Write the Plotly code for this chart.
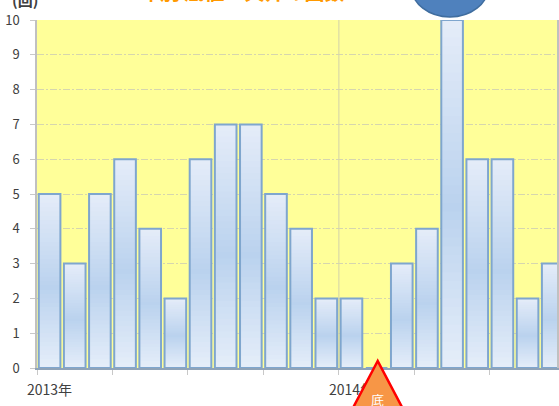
import plotly.graph_objects as go

counts_2013 = [5, 3, 5, 6, 4, 2, 6, 7, 7, 5, 4, 2]
counts_2014 = [2, 0, 3, 4, 10, 6, 6, 2, 3]
values = counts_2013 + counts_2014
positions = list(range(len(values)))
x_label_positions = [0, 12]
x_labels = ["2013年", "2014年"]
y_ticks = list(range(0, 11))
unit_label = "(回)"
chart_title = "年別 底値・天井の回数"
bottom_label = "底"

FONT = "Noto Sans CJK JP, Liberation Sans, sans-serif"
W, H = 559, 406
L, T, B = 37, 20, 38
PH = H - T - B


def py(pixel):
    return (H - B - pixel) / PH


def px(pixel):
    return (pixel - L) / (W - L)


def blend(frac):
    top = (230, 237, 249)
    mid = (186, 210, 238)
    bottom = (228, 237, 249)
    stop = 0.45
    if frac < stop:
        t = frac / stop
        a, b = bottom, mid
    else:
        t = (frac - stop) / (1 - stop)
        a, b = mid, top
    return "rgb(%d,%d,%d)" % tuple(round(a[i] + (b[i] - a[i]) * t) for i in range(3))


fig = go.Figure()
N = 40
for i in range(N):
    f = i / N
    fig.add_bar(
        x=positions,
        y=[v * (1 - f) for v in values],
        base=[v * f for v in values],
        marker=dict(color=blend(f), line=dict(width=0)),
        hoverinfo="skip",
        showlegend=False,
    )
fig.add_bar(
    x=positions,
    y=values,
    marker=dict(color="rgba(0,0,0,0)", line=dict(color="#7FA6CE", width=2)),
    showlegend=False,
)

shapes = [
    dict(type="line", xref="x", yref="paper", x0=11.5, x1=11.5, y0=0, y1=1,
         line=dict(color="#D2D2AA", width=1), layer="below"),
    dict(type="circle", xref="paper", yref="paper", x0=px(413), x1=px(490),
         y0=py(17), y1=py(-43), fillcolor="#4F81BD", line=dict(color="#3F6D9F", width=1.5)),
    dict(type="path", xref="paper", yref="paper",
         path="M %f %f L %f %f L %f %f Z" % (px(379), py(361), px(352), py(412), px(406), py(412)),
         fillcolor="#F79646", line=dict(color="#FF0000", width=2.5)),
]

annotations = [
    dict(text="<b>%s</b>" % unit_label, xref="paper", yref="paper", x=px(25), y=py(-13),
         xanchor="center", yanchor="top", showarrow=False,
         font=dict(family=FONT, size=15, color="#404040")),
    dict(text="<b>%s</b>" % chart_title, xref="paper", yref="paper", x=px(243), y=py(-25),
         xanchor="center", yanchor="top", showarrow=False,
         font=dict(family=FONT, size=20, color="#FF9900")),
    dict(text=bottom_label, xref="paper", yref="paper", x=px(379), y=py(399),
         xanchor="center", yanchor="middle", showarrow=False,
         font=dict(family=FONT, size=13, color="#FFFFFF")),
]

fig.update_layout(
    width=W,
    height=H,
    barmode="overlay",
    bargap=0.14,
    margin=dict(l=L, r=0, t=T, b=B),
    paper_bgcolor="white",
    plot_bgcolor="#FFFF99",
    font=dict(family=FONT, size=12, color="#404040"),
    hovermode=False,
    shapes=shapes,
    annotations=annotations,
    xaxis=dict(
        range=[-0.5, 20.17],
        tickmode="array",
        tickvals=x_label_positions,
        ticktext=x_labels,
        ticks="",
        showgrid=False,
        zeroline=False,
        showline=True,
        linecolor="#8FA3B8",
        linewidth=1.5,
        ticklabelstandoff=8,
        tickfont=dict(size=14, color="#404040"),
        minor=dict(tick0=-0.5, dtick=3, ticks="outside", ticklen=5, tickcolor="#C8C8C8", showgrid=False),
    ),
    yaxis=dict(
        range=[0, 10],
        tickmode="array",
        tickvals=y_ticks,
        ticks="outside",
        ticklen=5,
        tickcolor="#C8C8C8",
        showgrid=True,
        gridcolor="#D6D6AE",
        griddash="7px,2px,2px,2px",
        gridwidth=1,
        zeroline=False,
        showline=True,
        linecolor="#C0C0C0",
        linewidth=1.5,
        mirror=True,
        ticklabelstandoff=8,
        tickfont=dict(size=13, color="#404040"),
    ),
)

fig.write_html(
    "out.html",
    config=dict(displayModeBar=False),
    post_script="document.body.style.margin='0';document.documentElement.style.overflow='hidden';",
)
